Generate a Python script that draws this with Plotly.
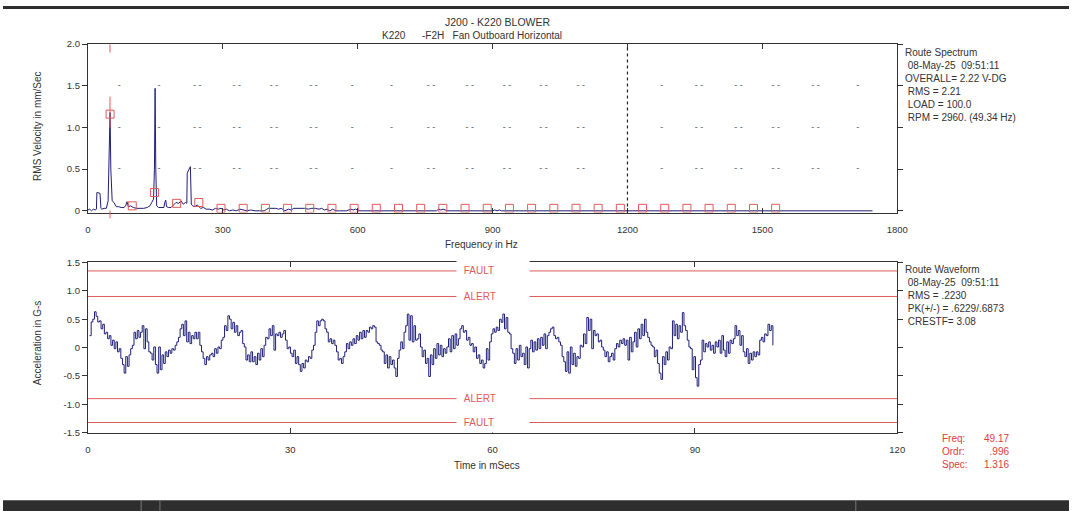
import numpy as np
import plotly.graph_objects as go

W, H = 1080, 516

# ---- route spectrum (top) ----
spec_hz = [0, 4, 8, 12, 16, 19, 20, 27, 29, 31, 36, 41, 45, 47, 49.3, 51, 54, 58, 63, 68,
           74, 80, 84, 87, 90, 95, 101, 108, 116, 124, 132, 138, 142, 146, 148, 149.5, 151, 153, 157, 163,
           169, 171, 173, 175, 179, 185, 191, 196, 202, 207, 212, 217, 220, 221, 224, 228, 230, 233, 238, 243,
           247, 251, 257, 263, 270, 277, 284, 290, 296, 302, 308, 315, 322, 330, 338, 346, 354, 362, 372, 382,
           392, 398, 402, 418, 424, 430, 438, 446, 452, 458, 466, 474, 482, 490, 498, 506, 514, 520, 526, 532,
           538, 544, 552, 560, 575, 585, 590, 595, 605, 700, 775, 780, 785, 790, 795, 800, 900, 905, 910, 915,
           920, 1100, 1745]
spec_amp = [0.01, 0.02, 0.0, 0.02, 0.01, 0.02, 0.22, 0.21, 0.03, 0.02, 0.03, 0.03, 0.12, 0.6, 1.18, 0.5, 0.12, 0.10, 0.05, 0.05,
            0.04, 0.04, 0.06, 0.11, 0.05, 0.06, 0.04, 0.03, 0.03, 0.03, 0.04, 0.06, 0.10, 0.14, 0.5, 1.47, 0.5, 0.06, 0.04, 0.04,
            0.04, 0.10, 0.13, 0.05, 0.04, 0.04, 0.08, 0.10, 0.09, 0.12, 0.08, 0.10, 0.09, 0.45, 0.49, 0.53, 0.08, 0.06, 0.05, 0.07,
            0.05, 0.03, 0.04, 0.02, 0.02, 0.01, 0.03, 0.02, 0.03, 0.01, 0.02, 0.0, 0.01, 0.0, 0.02, 0.01, 0.0, 0.01, 0.0, 0.0,
            0.0, 0.02, 0.03, 0.03, 0.02, 0.03, 0.0, 0.02, 0.01, 0.03, 0.03, 0.03, 0.03, 0.02, 0.03, 0.03, 0.02, 0.03, 0.01, 0.02,
            0.0, 0.02, 0.0, 0.0, 0.0, 0.02, 0.01, 0.02, 0.0, 0.0, 0.0, 0.02, 0.01, 0.02, 0.01, 0.0, 0.0, 0.01, 0.0, 0.01,
            0.0, 0.0, 0.0]

run_hz = 49.34
orders = list(range(1, 32))
order_amp = [1.16, 0.06, 0.22, 0.09, 0.10, 0.03, 0.03, 0.03, 0.03, 0.03, 0.03, 0.03, 0.03, 0.03, 0.03, 0.03,
             0.03, 0.03, 0.03, 0.03, 0.03, 0.03, 0.03, 0.03, 0.03, 0.03, 0.03, 0.03, 0.03, 0.03, 0.03]

cursor_hz = 49.17
cursor_span = [1.0, 1.37]
marker_line_hz = 1200

dash_hz = [70, 158, 243, 331, 414, 502, 588, 675, 763, 849, 932, 1013, 1096, 1276, 1359, 1447, 1530, 1618, 1712]
dash_txt = ["-", "-", "- -", "- -", "- -", "- -", "-", "-", "- -", "- -", "- -", "- -", "- -",
            "-", "- -", "- -", "- -", "- -", "-"]
dash_levels = [0.5, 1.0, 1.5]

# ---- route waveform (bottom) ----
wave_g = [
    # 0 - 34 ms
    0.21, 0.45, 0.50, 0.63, 0.55, 0.45, 0.47, 0.33, 0.41, 0.24, 0.27, 0.155, 0.21, 0.04, 0.13, -0.02,
    0.10, -0.075, -0.02, -0.19, -0.30, -0.45, -0.16, -0.33, -0.13, -0.02, 0.04, 0.27, 0.155, 0.30, 0.18, 0.27,
    0.385, -0.02, 0.33, 0.10, -0.075, -0.10, -0.22, 0.01, -0.30, -0.45, 0.01, -0.39, -0.13, -0.28, -0.075, -0.16,
    -0.045, -0.10, -0.02, -0.045, 0.04, 0.10, 0.18, 0.33, 0.41, 0.21, 0.47, 0.10, 0.27, 0.07, 0.21, 0.155,
    0.27, 0.155, 0.27, 0.04, -0.075, -0.19, -0.30, -0.16, -0.22, -0.13, -0.10, -0.16, -0.02, -0.10, 0.01, -0.02,
    0.13, 0.18, 0.385, 0.30, 0.56, 0.50, 0.33, 0.445, 0.27, 0.385, 0.21, 0.27, 0.30, 0.07, 0.01, -0.22,
    -0.13, -0.25, -0.075, -0.25, -0.16, -0.30, -0.10, -0.22, -0.02, -0.16, 0.04, 0.18, 0.155, 0.33, 0.21, 0.385,
    -0.045, 0.24, 0.21, 0.27, 0.18, 0.24, 0.30, 0.13, -0.02, 0.01, -0.10, -0.16, -0.045, -0.28, -0.16, -0.30,
    -0.42, -0.28, -0.36, -0.22, -0.25, -0.16, -0.19, -0.045, 0.04, 0.27, 0.47, 0.385,
    # 34 - 68 ms
    0.47, 0.50, 0.47, 0.33, 0.27, 0.10, 0.155, 0.07, 0.13, 0.04, -0.075, -0.22, -0.19, -0.28, -0.16, -0.075,
    0.07, -0.02, 0.10, 0.04, 0.155, 0.07, 0.21, 0.13, 0.27, 0.155, 0.30, 0.18, 0.30, 0.27, 0.36, 0.33,
    0.385, 0.36, 0.10, 0.07, 0.04, -0.045, -0.075, -0.28, -0.13, -0.36, -0.16, -0.30, -0.22, -0.36, -0.51, -0.19,
    -0.045, 0.10, -0.02, 0.27, 0.385, 0.59, 0.13, 0.56, 0.10, 0.385, 0.13, 0.155, 0.24, 0.01, -0.16, -0.045,
    -0.28, -0.19, -0.51, -0.13, -0.30, -0.02, -0.19, 0.07, -0.13, 0.04, -0.16, -0.02, -0.10, 0.01, 0.155, -0.075,
    0.21, -0.02, 0.24, 0.04, 0.155, 0.33, 0.385, 0.27, 0.30, 0.13, 0.18, 0.04, 0.07, -0.075, 0.01, -0.19,
    -0.13, -0.28, -0.22, -0.36, -0.28, -0.02, -0.22, 0.10, 0.24, 0.33, 0.27, 0.36, 0.30, 0.50, 0.445, 0.59,
    0.33, 0.53, 0.27, 0.24, -0.02, -0.10, -0.28, -0.02, -0.22, 0.04, -0.16, -0.10, -0.30, 0.01, -0.36, -0.02,
    0.13, -0.075, 0.10, -0.045, 0.155, -0.02, 0.18, 0.04, 0.24, -0.02, 0.21, 0.27, 0.33, 0.36,
    # 68 - 101 ms
    0.21, 0.155, 0.18, 0.10, 0.04, -0.16, -0.25, -0.42, -0.075, -0.45, 0.01, -0.30, -0.10, -0.33, -0.16, -0.19,
    0.04, 0.01, 0.24, 0.07, 0.53, 0.30, 0.50, -0.02, 0.30, 0.21, 0.24, 0.10, 0.13, 0.01, -0.045, -0.16,
    -0.075, -0.25, -0.16, -0.10, -0.22, -0.02, 0.07, 0.01, 0.13, 0.07, 0.155, 0.04, 0.13, -0.22, 0.18, -0.075,
    0.10, 0.27, 0.01, 0.33, 0.155, 0.41, 0.21, 0.50, 0.27, 0.18, 0.10, 0.04, 0.01, -0.16, -0.045, -0.28,
    -0.45, -0.56, -0.16, -0.30, -0.075, -0.22, 0.01, -0.02, 0.47, 0.21, 0.41, 0.155, 0.385, 0.27, 0.615, 0.385,
    0.30, 0.13, 0.01, -0.02, -0.39, -0.16, -0.53, -0.68, -0.30, -0.22, 0.13, -0.075, 0.07, 0.01, 0.10, -0.045,
    0.04, -0.10, 0.10, 0.01, 0.13, -0.10, 0.21, -0.045, -0.16, 0.10, -0.10, 0.13, 0.07, 0.155, 0.385, 0.21,
    0.30, 0.04, 0.21, -0.075, -0.16, -0.02, -0.28, -0.10, -0.22, -0.075, -0.16, -0.075, -0.13, 0.13, 0.18, 0.10,
    0.24, 0.21, 0.41, 0.30, 0.385, 0.04,
]
sample_ms = 1000 / 4096
wave_ms = np.arange(1, len(wave_g) + 1) * sample_ms

alarm_levels = [1.35, 0.9, -0.9, -1.32]
alarm_names = ["FAULT", "ALERT", "ALERT", "FAULT"]

spec_info = ["Route Spectrum", "\u00a008-May-25\u00a0\u00a009:51:11", "OVERALL= 2.22 V-DG",
             "\u00a0RMS = 2.21", "\u00a0LOAD = 100.0", "\u00a0RPM = 2960. (49.34 Hz)"]
wave_info = ["Route Waveform", "\u00a008-May-25\u00a0\u00a009:51:11", "\u00a0RMS = .2230",
             "\u00a0PK(+/-) = .6229/.6873", "\u00a0CRESTF= 3.08"]
cursor_lbl = ["Freq:", "Ordr:", "Spec:"]
cursor_val = ["49.17", ".996", "1.316"]

NAVY = "#1f1f78"
RED = "#e05a5a"
TXT = "#333333"
FONT = "Liberation Sans"


def px(x):
    return x / W


def py(y):
    return 1 - y / H


fig = go.Figure()

# spectrum
fig.add_trace(go.Scatter(x=spec_hz, y=spec_amp, mode="lines", line=dict(color=NAVY, width=1),
                         xaxis="x", yaxis="y", hoverinfo="skip"))
fig.add_trace(go.Scatter(x=[o * run_hz for o in orders], y=order_amp, mode="markers",
                         marker=dict(symbol="square-open", size=8, color=RED, line=dict(width=1)),
                         xaxis="x", yaxis="y", hoverinfo="skip"))
for lvl in dash_levels:
    fig.add_trace(go.Scatter(x=dash_hz, y=[lvl] * len(dash_hz), mode="text", text=dash_txt,
                             textfont=dict(size=9, color="#555", family=FONT),
                             xaxis="x", yaxis="y", hoverinfo="skip"))

# waveform
fig.add_trace(go.Scatter(x=wave_ms, y=wave_g, mode="lines", line=dict(color=NAVY, width=1, shape="hv"),
                         xaxis="x2", yaxis="y2", hoverinfo="skip"))

shapes = []
# cursor on spectrum
shapes.append(dict(type="line", xref="x", yref="y", x0=cursor_hz, x1=cursor_hz,
                   y0=cursor_span[0], y1=cursor_span[1], line=dict(color=RED, width=1)))
shapes.append(dict(type="line", xref="x", yref="y", x0=cursor_hz, x1=cursor_hz,
                   y0=1.9, y1=2.0, line=dict(color=RED, width=1)))
shapes.append(dict(type="line", xref="x", yref="paper", x0=cursor_hz, x1=cursor_hz,
                   y0=py(217), y1=py(209), line=dict(color=RED, width=1)))
shapes.append(dict(type="line", xref="x", yref="y domain", x0=marker_line_hz, x1=marker_line_hz,
                   y0=0, y1=1, line=dict(color="#222", width=1.2, dash="dot")))
# alarm lines
for lvl in alarm_levels:
    shapes.append(dict(type="line", xref="x2 domain", yref="y2", x0=0, x1=1, y0=lvl, y1=lvl,
                       line=dict(color=RED, width=1)))
# screenshot bands
shapes.append(dict(type="rect", xref="paper", yref="paper", x0=0, x1=1, y0=py(3), y1=1,
                   fillcolor="#2e2e2e", line=dict(width=0), layer="above"))
shapes.append(dict(type="rect", xref="paper", yref="paper", x0=0, x1=1, y0=0, y1=py(505),
                   fillcolor="#2e2e2e", line=dict(width=0), layer="above"))
for xv in [140, 159, 864]:
    shapes.append(dict(type="line", xref="paper", yref="paper", x0=px(xv), x1=px(xv), y0=0, y1=py(505),
                       line=dict(color="#777", width=1), layer="above"))

txt_font = dict(size=10, color=TXT, family=FONT)
red_font = dict(size=10, color="#e03a3a", family=FONT)


def note(x, y, text, font=txt_font, xanchor="center", yanchor="middle", **kw):
    return dict(x=px(x), y=py(y), xref="paper", yref="paper", text=text, showarrow=False,
                xanchor=xanchor, yanchor=yanchor, font=font, **kw)


ann = []
for lvl, name in zip(alarm_levels, alarm_names):
    ann.append(dict(x=px(459), xref="paper", y=lvl, yref="y2", xanchor="left", yanchor="middle",
                    text="\u00a0" + name, showarrow=False, align="left", width=64, bgcolor="white",
                    borderpad=4, font=dict(size=10, color=RED, family=FONT)))

ann.append(note(501, 16, "J200 - K220 BLOWER", font=dict(size=10.5, color=TXT, family=FONT)))
ann.append(note(382, 30, "K220\u00a0\u00a0\u00a0\u00a0\u00a0\u00a0-F2H\u00a0\u00a0\u00a0Fan Outboard Horizontal",
                xanchor="left"))
ann.append(note(912, 40, "<br>".join(spec_info), xanchor="left", yanchor="top", align="left"))
ann.append(note(912, 262, "<br>".join(wave_info), xanchor="left", yanchor="top", align="left"))
ann.append(note(949, 434, "<br>".join(cursor_lbl), font=red_font, xanchor="left", yanchor="top", align="left"))
ann.append(note(1021, 434, "<br>".join(cursor_val), font=red_font, xanchor="right", yanchor="top", align="right"))
# axis titles
ann.append(note(35, 123, "RMS Velocity in mm/Sec", textangle=-90))
ann.append(note(35, 345, "Acceleration in G-s", textangle=-90))
ann.append(note(485, 244, "Frequency in Hz"))
ann.append(note(490, 469, "Time in mSecs"))

ax_common = dict(showline=True, linecolor="#333", linewidth=1, mirror="ticks", showgrid=False,
                 zeroline=False, tickfont=dict(size=9.5, color=TXT, family=FONT), ticklen=5,
                 tickcolor="#333")

fig.update_layout(
    autosize=True, margin=dict(l=0, r=0, t=0, b=0),
    paper_bgcolor="white", plot_bgcolor="white", showlegend=False,
    xaxis=dict(domain=[px(86), px(906)], range=[0, 1800], tickvals=[0, 300, 600, 900, 1200, 1500, 1800],
               ticks="inside", anchor="y", ticklabelstandoff=8, **ax_common),
    yaxis=dict(domain=[py(211), py(39)], range=[-0.02, 2.0], tickvals=[0, 0.5, 1.0, 1.5, 2.0],
               ticktext=["0", "0.5", "1.0", "1.5", "2.0"], ticks="outside", anchor="x", **ax_common),
    xaxis2=dict(domain=[px(86), px(906)], range=[0, 120], tickvals=[0, 30, 60, 90, 120],
                ticks="inside", anchor="y2", ticklabelstandoff=8, **ax_common),
    yaxis2=dict(domain=[py(436), py(262)], range=[-1.5, 1.5], tickvals=[-1.5, -1.0, -0.5, 0, 0.5, 1.0, 1.5],
                ticktext=["-1.5", "-1.0", "-0.5", "0", "0.5", "1.0", "1.5"], ticks="outside", anchor="x2",
                **ax_common),
    shapes=shapes, annotations=ann,
)

# no page margin or scrollbars; the figure is then resized to fill the whole window
page_js = ("document.documentElement.style.overflow='hidden';"
           "document.body.style.margin='0px';document.body.style.overflow='hidden';"
           "Plotly.Plots.resize(document.getElementById('{plot_id}'));")
fig.write_html("out.html", post_script=page_js, default_width="100vw", default_height="100vh",
               config={"displayModeBar": False, "responsive": True})
